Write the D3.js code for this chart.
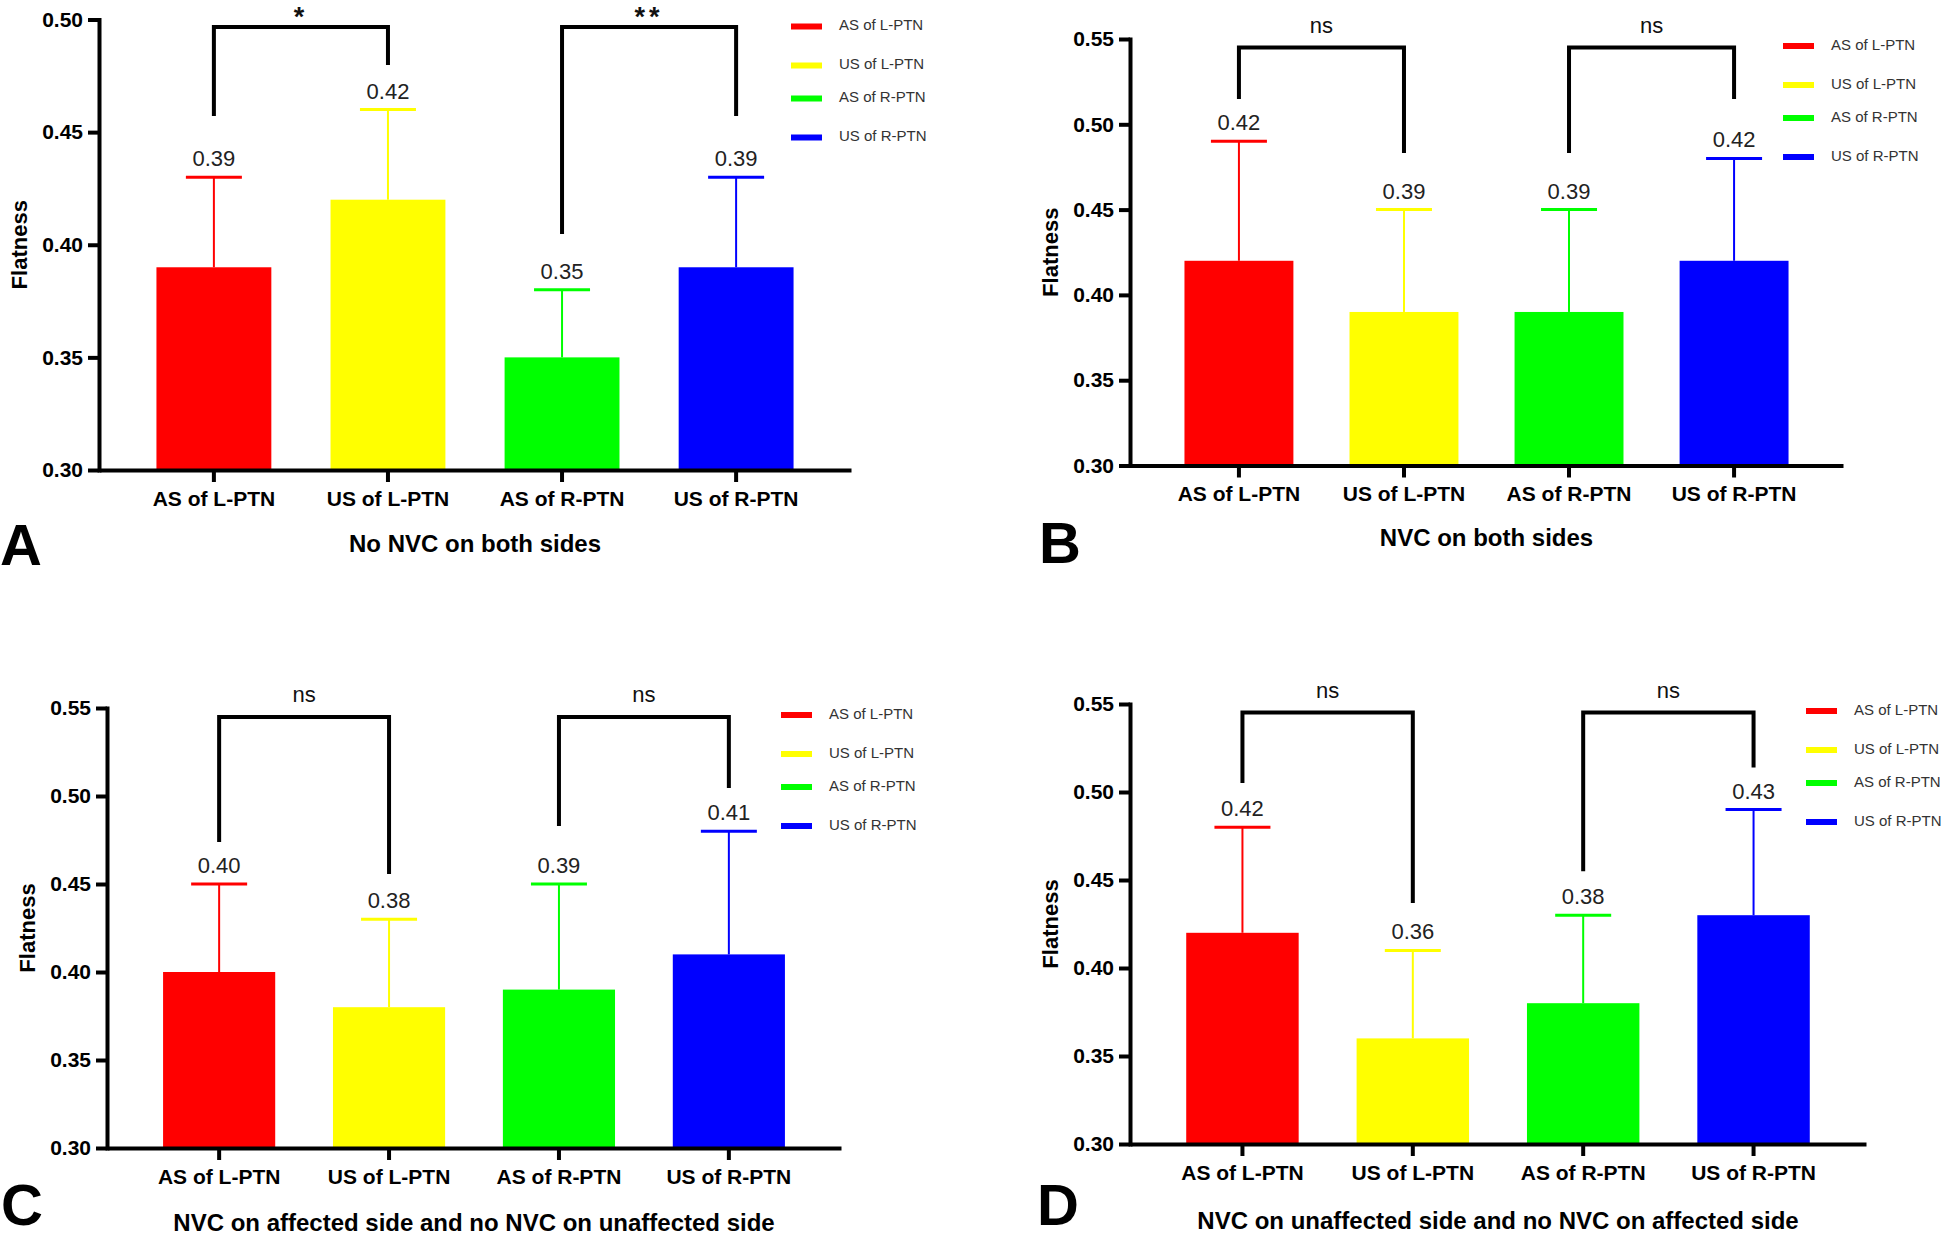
<!DOCTYPE html>
<html>
<head>
<meta charset="utf-8">
<script src="https://cdn.jsdelivr.net/npm/d3@7"></script>
<style>
  body { margin: 0; background: #fff; }
  svg { display: block; }
  text { font-family: "Liberation Sans", Arial, sans-serif; }
</style>
</head>
<body>
<svg id="chart" width="1946" height="1238"></svg>
<script>
// ---------------- DATA ----------------
const categories = ["AS of L-PTN", "US of L-PTN", "AS of R-PTN", "US of R-PTN"];
const barColors = ["#ff0000", "#ffff00", "#00ff00", "#0000ff"];
const panelLetters = ["A", "B", "C", "D"];
const subtitles = [
  "No NVC on both sides",
  "NVC on both sides",
  "NVC on affected side and no NVC on unaffected side",
  "NVC on unaffected side and no NVC on affected side"
];
const yTicksA = [0.30, 0.35, 0.40, 0.45, 0.50];
const yTicksBCD = [0.30, 0.35, 0.40, 0.45, 0.50, 0.55];

const meansA = [0.39, 0.42, 0.35, 0.39];
const sdA    = [0.04, 0.04, 0.03, 0.04];
const meansB = [0.42, 0.39, 0.39, 0.42];
const sdB    = [0.07, 0.06, 0.06, 0.06];
const meansC = [0.40, 0.38, 0.39, 0.41];
const sdC    = [0.05, 0.05, 0.06, 0.07];
const meansD = [0.42, 0.36, 0.38, 0.43];
const sdD    = [0.06, 0.05, 0.05, 0.06];

// brackets: [fromIndex, toIndex, topValue, leftLegEnd, rightLegEnd, label]
const bracketsA = [[0, 1, 0.4967, 0.4572, 0.4798, "*"], [2, 3, 0.4967, 0.4048, 0.4572, "**"]];
const bracketsB = [[0, 1, 0.5450, 0.5148, 0.4832, "ns"], [2, 3, 0.5450, 0.4832, 0.5148, "ns"]];
const bracketsC = [[0, 1, 0.5449, 0.4739, 0.4557, "ns"], [2, 3, 0.5449, 0.4830, 0.5045, "ns"]];
const bracketsD = [[0, 1, 0.5451, 0.5051, 0.4369, "ns"], [2, 3, 0.5451, 0.4550, 0.5139, "ns"]];

// ---------------- LAYOUT ----------------
const panels = [
  { means: meansA, sd: sdA, brackets: bracketsA, ticks: yTicksA,
    x0: 99, x1: 851, yTop: 19.5, yBot: 470, letterX: 0, letterY: 565, subDy: 82 },
  { means: meansB, sd: sdB, brackets: bracketsB, ticks: yTicksBCD,
    x0: 1130, x1: 1843, yTop: 39, yBot: 465.5, letterX: 1039, letterY: 563, subDy: 80 },
  { means: meansC, sd: sdC, brackets: bracketsC, ticks: yTicksBCD,
    x0: 107, x1: 841, yTop: 708, yBot: 1148, letterX: 1, letterY: 1225, subDy: 83 },
  { means: meansD, sd: sdD, brackets: bracketsD, ticks: yTicksBCD,
    x0: 1130, x1: 1866, yTop: 704, yBot: 1144, letterX: 1037, letterY: 1225, subDy: 85 }
];
const legendOffsets = [0, 39, 72, 111];

const svg = d3.select("#chart");

panels.forEach((p, pi) => {
  const g = svg.append("g");
  const x = d3.scaleBand().domain(categories).range([p.x0, p.x1])
    .paddingInner(0.34).paddingOuter(0.33);
  const y = d3.scaleLinear().domain([p.ticks[0], p.ticks[p.ticks.length - 1]])
    .range([p.yBot, p.yTop]);
  const cx = c => x(c) + x.bandwidth() / 2;

  const data = categories.map((c, i) => ({ c, m: p.means[i], s: p.sd[i], col: barColors[i] }));

  // bars
  g.selectAll("rect.bar").data(data).join("rect")
    .attr("class", "bar")
    .attr("x", d => x(d.c)).attr("width", x.bandwidth())
    .attr("y", d => y(d.m)).attr("height", d => p.yBot - y(d.m))
    .attr("fill", d => d.col);

  // error bars
  g.selectAll("line.err").data(data).join("line")
    .attr("class", "err")
    .attr("x1", d => cx(d.c)).attr("x2", d => cx(d.c))
    .attr("y1", d => y(d.m)).attr("y2", d => y(d.m + d.s))
    .attr("stroke", d => d.col).attr("stroke-width", 2);
  g.selectAll("line.cap").data(data).join("line")
    .attr("class", "cap")
    .attr("x1", d => cx(d.c) - 28).attr("x2", d => cx(d.c) + 28)
    .attr("y1", d => y(d.m + d.s)).attr("y2", d => y(d.m + d.s))
    .attr("stroke", d => d.col).attr("stroke-width", 3);

  // value labels
  g.selectAll("text.val").data(data).join("text")
    .attr("class", "val")
    .attr("x", d => cx(d.c)).attr("y", d => y(d.m + d.s) - 11)
    .attr("text-anchor", "middle")
    .attr("font-size", 22).attr("fill", "#222")
    .text(d => d3.format(".2f")(d.m));

  // brackets
  p.brackets.forEach(b => {
    const xl = cx(categories[b[0]]), xr = cx(categories[b[1]]);
    const yt = y(b[2]);
    g.append("path")
      .attr("d", `M${xl},${y(b[3])}V${yt}H${xr}V${y(b[4])}`)
      .attr("fill", "none").attr("stroke", "#000").attr("stroke-width", 4)
      .attr("stroke-linejoin", "miter");
    const isStar = b[5].indexOf("*") >= 0;
    g.append("text")
      .attr("x", (xl + xr) / 2)
      .attr("y", isStar ? yt - 1 : yt - 15)
      .attr("text-anchor", "middle")
      .attr("font-size", isStar ? 27 : 22)
      .attr("font-weight", isStar ? "bold" : "normal")
      .attr("letter-spacing", isStar ? 4 : 0)
      .attr("fill", "#111")
      .text(b[5]);
  });

  // y axis
  const yAxis = d3.axisLeft(y).tickValues(p.ticks).tickFormat(d3.format(".2f"))
    .tickSize(11).tickSizeOuter(0).tickPadding(5);
  const ya = g.append("g").attr("transform", `translate(${p.x0},0)`).call(yAxis);
  ya.select(".domain").attr("stroke-width", 4).attr("stroke-linecap", "square");
  ya.selectAll(".tick line").attr("stroke-width", 4);
  ya.selectAll(".tick text").attr("font-size", 21).attr("font-weight", "bold")
    .attr("fill", "#000").style("font-family", '"Liberation Sans", Arial, sans-serif');

  // x axis
  const xAxis = d3.axisBottom(x).tickSize(12).tickSizeOuter(0).tickPadding(9);
  const xa = g.append("g").attr("transform", `translate(0,${p.yBot})`).call(xAxis);
  xa.select(".domain").attr("stroke-width", 4);
  xa.selectAll(".tick line").attr("stroke-width", 4);
  xa.selectAll(".tick text").attr("font-size", 21).attr("font-weight", "bold")
    .attr("fill", "#000").style("font-family", '"Liberation Sans", Arial, sans-serif');

  // y label
  g.append("text")
    .attr("transform", `translate(${p.x0 - 72},${(p.yTop + p.yBot) / 2}) rotate(-90)`)
    .attr("text-anchor", "middle")
    .attr("font-size", 22).attr("font-weight", "bold").attr("fill", "#000")
    .text("Flatness");

  // subtitle
  g.append("text")
    .attr("x", (p.x0 + p.x1) / 2).attr("y", p.yBot + p.subDy)
    .attr("text-anchor", "middle")
    .attr("font-size", 24).attr("font-weight", "bold").attr("fill", "#000")
    .text(subtitles[pi]);

  // panel letter
  g.append("text")
    .attr("x", p.letterX).attr("y", p.letterY)
    .attr("font-size", 58).attr("font-weight", "bold").attr("fill", "#000")
    .text(panelLetters[pi]);

  // legend
  const lx = p.x1 - 60, ly = p.yTop + 7;
  const lg = g.append("g");
  categories.forEach((c, i) => {
    lg.append("rect")
      .attr("x", lx).attr("y", ly + legendOffsets[i] - 3)
      .attr("width", 31).attr("height", 6)
      .attr("fill", barColors[i]);
    lg.append("text")
      .attr("x", lx + 48).attr("y", ly + legendOffsets[i])
      .attr("dominant-baseline", "middle")
      .attr("font-size", 15).attr("fill", "#333")
      .text(c);
  });
});
</script>
</body>
</html>
